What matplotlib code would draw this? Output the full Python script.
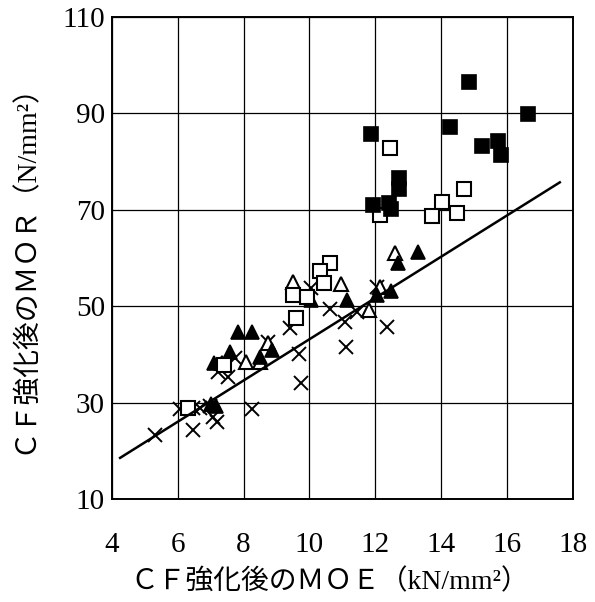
import matplotlib
matplotlib.use("Agg")
import matplotlib.pyplot as plt
import numpy as np

# ---- data ----
filled_sq_x = [11.87, 14.26, 14.85, 16.62, 15.23, 15.71, 15.81, 12.73, 12.73, 11.94, 12.42, 12.46]
filled_sq_y = [85.8, 87.1, 96.5, 89.8, 83.2, 84.2, 81.3, 76.6, 74.3, 71.0, 71.4, 70.2]

open_sq_x = [12.44, 14.69, 14.03, 14.48, 13.72, 12.14, 10.62, 10.32, 10.45, 9.50, 9.91, 9.59, 7.40, 6.30]
open_sq_y = [82.7, 74.3, 71.6, 69.4, 68.6, 68.9, 58.9, 57.2, 54.9, 52.3, 51.8, 47.5, 37.8, 28.8]

open_tri_x = [12.60, 9.50, 10.95, 11.81, 12.14, 7.33, 8.07, 8.75, 8.50]
open_tri_y = [61.0, 55.0, 54.6, 49.2, 54.0, 38.2, 38.5, 42.3, 38.5]

filled_tri_x = [13.28, 12.70, 10.04, 11.13, 12.04, 12.49, 7.84, 8.24, 7.58, 7.11, 8.49, 8.85, 7.00, 7.15]
filled_tri_y = [61.3, 59.0, 51.3, 51.3, 52.3, 53.2, 44.6, 44.6, 40.6, 38.2, 39.4, 40.9, 29.8, 29.3]

cross_x = [5.31, 6.06, 6.47, 6.67, 6.98, 7.08, 7.18, 6.47, 8.24, 7.23, 7.53, 7.73, 8.75, 9.40,
           9.67, 9.74, 10.06, 10.62, 11.08, 11.12, 11.43, 12.04, 12.34]
cross_y = [23.3, 28.6, 28.8, 28.8, 29.2, 27.1, 26.0, 24.3, 28.6, 36.4, 35.4, 39.2, 42.6, 45.5,
           40.1, 34.1, 53.7, 49.4, 46.8, 41.6, 48.7, 54.0, 45.6]

# regression line y = slope * x + intercept, drawn over this x-range
line_slope = 4.28
line_intercept = 0.35
line_x_range = [4.25, 17.6]

x_ticks = [4, 6, 8, 10, 12, 14, 16, 18]
y_ticks = [10, 30, 50, 70, 90, 110]

xlabel = "ＣＦ強化後のＭＯＥ（kN/mm²）"
ylabel = "ＣＦ強化後のＭＯＲ（N/mm²）"

# ---- plotting ----
fig = plt.figure(figsize=(5.95, 6.02), dpi=100)
ax = fig.add_axes([0.188, 0.171, 0.775, 0.801])

ax.set_xlim(4, 18)
ax.set_ylim(10, 110)
ax.set_xticks(x_ticks)
ax.set_yticks(y_ticks)
ax.grid(True, color="black", linewidth=0.9)
ax.set_axisbelow(True)
for s in ax.spines.values():
    s.set_linewidth(1.4)
    s.set_color("black")
ax.tick_params(axis="x", length=0, pad=24)
ax.tick_params(axis="y", length=0, pad=5)
for lab in ax.get_xticklabels() + ax.get_yticklabels():
    lab.set_fontfamily("Liberation Serif")
    lab.set_fontsize(21)

ms = 9.5
ax.plot(cross_x, cross_y, linestyle="none", marker="x", ms=ms, mew=1.4, color="black", zorder=3)
ax.plot(open_tri_x, open_tri_y, linestyle="none", marker="^", ms=ms, mew=1.5,
        mfc="white", mec="black", zorder=3)
ax.plot(filled_tri_x, filled_tri_y, linestyle="none", marker="^", ms=ms, mew=1.2,
        mfc="black", mec="black", zorder=3)
ax.plot(open_sq_x, open_sq_y, linestyle="none", marker="s", ms=ms, mew=1.5,
        mfc="white", mec="black", zorder=3)
ax.plot(filled_sq_x, filled_sq_y, linestyle="none", marker="s", ms=ms, mew=1.2,
        mfc="black", mec="black", zorder=3)

lx = np.array(line_x_range)
ax.plot(lx, line_slope * lx + line_intercept, color="black", linewidth=1.8, zorder=4)

fam = ["Liberation Serif", "Noto Sans CJK JP"]
ax.set_xlabel(xlabel, fontsize=20, family=fam)
ax.set_ylabel(ylabel, fontsize=20, family=fam)
ax.xaxis.set_label_coords(0.473, -0.172)
ax.xaxis.label.set_va("center")
ax.yaxis.set_label_coords(-0.189, 0.492)
ax.yaxis.label.set_va("center")
ax.yaxis.label.set_ha("center")

fig.savefig("out.png", dpi=100)
